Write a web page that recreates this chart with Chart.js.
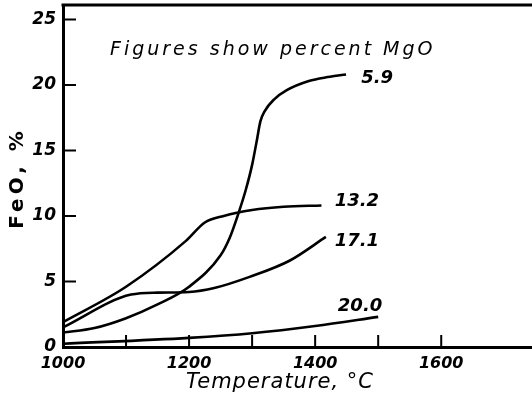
<!DOCTYPE html>
<html>
<head>
<meta charset="utf-8">
<script src="https://cdn.jsdelivr.net/npm/chart.js@4"></script>
<style>
  html, body { margin: 0; background: #fff; }
</style>
</head>
<body>
<canvas id="feoChart" width="532" height="405"></canvas>
<script>
// FeO content vs temperature, one curve per percent MgO
const temp59 = [1000, 1050, 1100, 1150, 1200, 1250, 1265, 1279, 1290, 1300, 1308, 1313, 1320, 1335, 1355, 1390, 1420, 1449];
const feo59  = [1.1, 1.45, 2.2, 3.25, 4.6, 7.0, 8.4, 10.3, 12.0, 13.9, 15.9, 17.2, 18.0, 18.9, 19.6, 20.3, 20.6, 20.8];

const temp132 = [1000, 1100, 1195, 1225, 1255, 1300, 1350, 1410];
const feo132  = [1.9, 4.6, 8.1, 9.5, 10.0, 10.45, 10.7, 10.8];

const temp171 = [1000, 1108, 1150, 1200, 1240, 1296, 1360, 1417];
const feo171  = [1.5, 4.0, 4.15, 4.2, 4.5, 5.35, 6.6, 8.4];

const temp200 = [1000, 1200, 1300, 1400, 1500];
const feo200  = [0.25, 0.7, 1.05, 1.6, 2.3];

const mgoLabels = ['5.9', '13.2', '17.1', '20.0'];
// where each curve's label sits, in data units (temperature, FeO)
const labelAt = [[1473, 20.5], [1431, 11.15], [1431, 8.1], [1436, 3.1]];

const xTickLabels = [1000, 1200, 1400, 1600];
const xTickMarks = [1100, 1200, 1300, 1400, 1500, 1600];
const yTickLabels = [0, 5, 10, 15, 20, 25];
const yTickMarks = [5, 10, 15, 20, 25];

const toPoints = (xs, ys) => xs.map((t, i) => ({ x: t, y: ys[i] }));

const curve = (data) => ({
  data,
  borderColor: '#000',
  borderWidth: 2.6,
  pointRadius: 0,
  fill: false,
  cubicInterpolationMode: 'monotone'
});

const sketchPlugin = {
  id: 'sketch',
  afterDraw(chart) {
    const { ctx, chartArea, scales: { x, y } } = chart;
    ctx.save();
    ctx.strokeStyle = '#000';
    ctx.fillStyle = '#000';

    // top frame line, runs off the right edge
    ctx.lineWidth = 3;
    ctx.beginPath();
    ctx.moveTo(chartArea.left - 1.5, chartArea.top);
    ctx.lineTo(chart.width, chartArea.top);
    ctx.stroke();

    // tick marks point into the plot
    ctx.lineWidth = 2;
    ctx.beginPath();
    xTickMarks.forEach(v => {
      const px = x.getPixelForValue(v);
      ctx.moveTo(px, chartArea.bottom);
      ctx.lineTo(px, chartArea.bottom - 12);
    });
    yTickMarks.forEach(v => {
      const py = y.getPixelForValue(v);
      ctx.moveTo(chartArea.left, py);
      ctx.lineTo(chartArea.left + 13, py);
    });
    ctx.stroke();

    // curve labels
    ctx.font = 'bold oblique 18px "DejaVu Sans"';
    ctx.textAlign = 'left';
    ctx.textBaseline = 'middle';
    mgoLabels.forEach((txt, i) => {
      ctx.fillText(txt, x.getPixelForValue(labelAt[i][0]), y.getPixelForValue(labelAt[i][1]));
    });

    // note
    ctx.font = 'oblique 19px "DejaVu Sans"';
    ctx.letterSpacing = '3px';
    ctx.textBaseline = 'alphabetic';
    ctx.fillText('Figures show percent MgO', chartArea.left + 47, 55);

    // axis titles
    ctx.font = 'oblique 21px "DejaVu Sans"';
    ctx.letterSpacing = '1px';
    ctx.textAlign = 'center';
    ctx.textBaseline = 'middle';
    ctx.fillText('Temperature, °C', 280, 383);

    ctx.font = 'bold 20px "DejaVu Sans"';
    ctx.letterSpacing = '4px';
    ctx.translate(18, 178);
    ctx.rotate(-Math.PI / 2);
    ctx.fillText('FeO, %', 0, 0);
    ctx.restore();
  }
};

new Chart(document.getElementById('feoChart').getContext('2d'), {
  type: 'line',
  data: {
    datasets: [
      curve(toPoints(temp59, feo59)),
      curve(toPoints(temp132, feo132)),
      curve(toPoints(temp171, feo171)),
      curve(toPoints(temp200, feo200))
    ]
  },
  options: {
    responsive: false,
    animation: false,
    devicePixelRatio: 1,
    layout: { padding: { top: 5, right: 0, left: 0, bottom: 0 } },
    plugins: {
      legend: { display: false },
      tooltip: { enabled: false }
    },
    scales: {
      x: {
        type: 'linear',
        min: 1000,
        max: 1744,
        afterBuildTicks: (scale) => { scale.ticks = xTickLabels.map(v => ({ value: v })); },
        afterFit: (scale) => {
          scale.height = 58;
          scale.paddingLeft = 0;
          scale.paddingRight = 0;
        },
        grid: { drawOnChartArea: false, drawTicks: false },
        border: { display: true, color: '#000', width: 3 },
        ticks: {
          padding: 7,
          maxRotation: 0,
          color: '#000',
          callback: (v) => String(v),
          font: { family: 'DejaVu Sans', size: 16, weight: 'bold', style: 'oblique' }
        }
      },
      y: {
        min: 0,
        max: 26.1,
        afterBuildTicks: (scale) => { scale.ticks = yTickLabels.map(v => ({ value: v })); },
        afterFit: (scale) => {
          scale.width = 63;
          scale.paddingTop = 0;
          scale.paddingBottom = 0;
        },
        grid: { drawOnChartArea: false, drawTicks: false },
        border: { display: true, color: '#000', width: 3 },
        ticks: {
          padding: 7,
          color: '#000',
          callback: (v) => String(v),
          font: { family: 'DejaVu Sans', size: 17, weight: 'bold', style: 'oblique' }
        }
      }
    }
  },
  plugins: [sketchPlugin]
});
</script>
</body>
</html>
